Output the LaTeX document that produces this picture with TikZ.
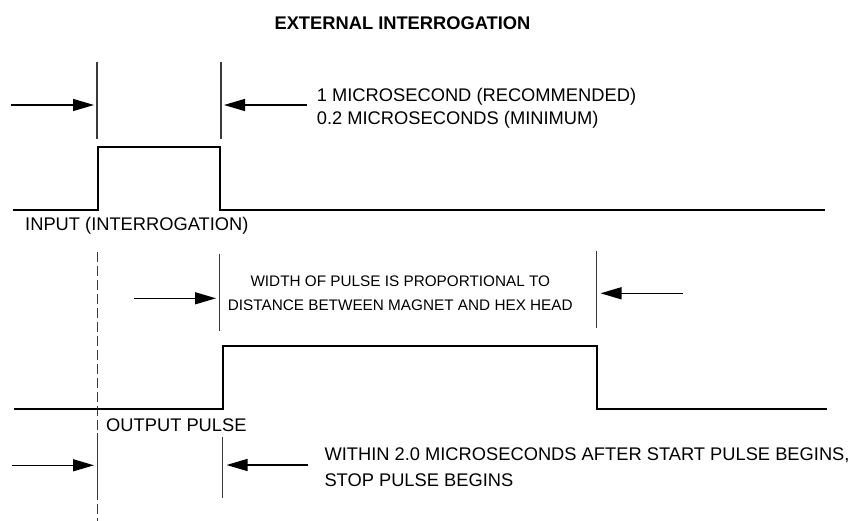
\documentclass[tikz,border=0pt]{standalone}
\usepackage{fontspec}
\setmainfont{Liberation Sans}
\usetikzlibrary{arrows.meta}
\definecolor{mark}{HTML}{3A3A3A}
\begin{document}
\begin{tikzpicture}[x=1pt,y=-1pt,
  pulse/.style={draw=black,line width=1.8pt},
  marker/.style={draw=mark,line width=1.2pt},
  dimarrow/.style={draw=black,line width=1.3pt,-{Triangle[length=21pt,width=12pt]}},
  dashmark/.style={draw=mark,line width=1.2pt,dash pattern=on 10pt off 4pt},
  lbl/.style={inner sep=0pt,font=\fontsize{18.3}{22}\selectfont},
  smalllbl/.style={inner sep=0pt,font=\fontsize{15.3}{19}\selectfont},
  titlelbl/.style={inner sep=0pt,font=\fontsize{18.3}{22}\selectfont\bfseries}]
\useasboundingbox (0,0) rectangle (854,521);

% title
\node[titlelbl,anchor=base] (title) at (402.5,29.3) {EXTERNAL INTERROGATION};

% ---- top section ----
\coordinate (v1t) at (97,62);   \coordinate (v1b) at (97,139);
\coordinate (v2t) at (221,62);  \coordinate (v2b) at (221,139);
\draw[marker] (v1t) -- (v1b);
\draw[marker] (v2t) -- (v2b);
\coordinate (a1s) at (11,105);  \coordinate (a1e) at (94,105);
\coordinate (a2s) at (307,105); \coordinate (a2e) at (224,105);
\draw[dimarrow] (a1s) -- (a1e);
\draw[dimarrow] (a2s) -- (a2e);
\node[lbl,anchor=base west] (t1a) at (316.7,101.7) {1 MICROSECOND (RECOMMENDED)};
\node[lbl,anchor=base west] (t1b) at (316.7,125) {0.2 MICROSECONDS (MINIMUM)};

\coordinate (p1a) at (13,210);  \coordinate (p1b) at (98,210);
\coordinate (p1c) at (98,147);  \coordinate (p1d) at (220,147);
\coordinate (p1e) at (220,210); \coordinate (p1f) at (825,210);
\draw[pulse,line join=miter] (p1a) -- (p1b) -- (p1c) -- (p1d) -- (p1e) -- (p1f);
\node[lbl,anchor=base west] (inlbl) at (25,230.5) {INPUT (INTERROGATION)};

% ---- middle section ----
\coordinate (dt) at (97.3,252); \coordinate (db) at (97.3,521);
\draw[dashmark] (dt) -- (db);
\coordinate (v3t) at (219.5,254);  \coordinate (v3b) at (219.5,331);
\coordinate (v4t) at (596.7,250.7); \coordinate (v4b) at (596.7,327.7);
\draw[marker] (v3t) -- (v3b);
\draw[marker] (v4t) -- (v4b);
\coordinate (a3s) at (134,298.3);   \coordinate (a3e) at (216,298.3);
\coordinate (a4s) at (682.7,293.3); \coordinate (a4e) at (600.5,293.3);
\draw[dimarrow] (a3s) -- (a3e);
\draw[dimarrow] (a4s) -- (a4e);
\node[smalllbl,anchor=base] (t2a) at (400.3,286.7) {WIDTH OF PULSE IS PROPORTIONAL TO};
\node[smalllbl,anchor=base] (t2b) at (400.3,310.7) {DISTANCE BETWEEN MAGNET AND HEX HEAD};

\coordinate (p2a) at (14,409.3);    \coordinate (p2b) at (222.7,409.3);
\coordinate (p2c) at (222.7,346);   \coordinate (p2d) at (596.7,346);
\coordinate (p2e) at (596.7,409.3); \coordinate (p2f) at (826.7,409.3);
\draw[pulse,line join=miter] (p2a) -- (p2b) -- (p2c) -- (p2d) -- (p2e) -- (p2f);
\node[lbl,anchor=base west] (outlbl) at (106,431) {OUTPUT PULSE};

% ---- bottom section ----
\coordinate (v5t) at (97.3,433);   \coordinate (v5b) at (97.3,500);
\coordinate (v6t) at (222.7,436.7); \coordinate (v6b) at (222.7,498.3);
\draw[marker] (v5t) -- (v5b);
\draw[marker] (v6t) -- (v6b);
\coordinate (a5s) at (11.7,465.3);  \coordinate (a5e) at (94,465.3);
\coordinate (a6s) at (308.3,465);   \coordinate (a6e) at (226.5,465);
\draw[dimarrow] (a5s) -- (a5e);
\draw[dimarrow] (a6s) -- (a6e);
\node[lbl,anchor=base west] (t3a) at (324.3,460.7) {WITHIN 2.0 MICROSECONDS AFTER START PULSE BEGINS,};
\node[lbl,anchor=base west] (t3b) at (324.3,486) {STOP PULSE BEGINS};
\end{tikzpicture}
\end{document}
